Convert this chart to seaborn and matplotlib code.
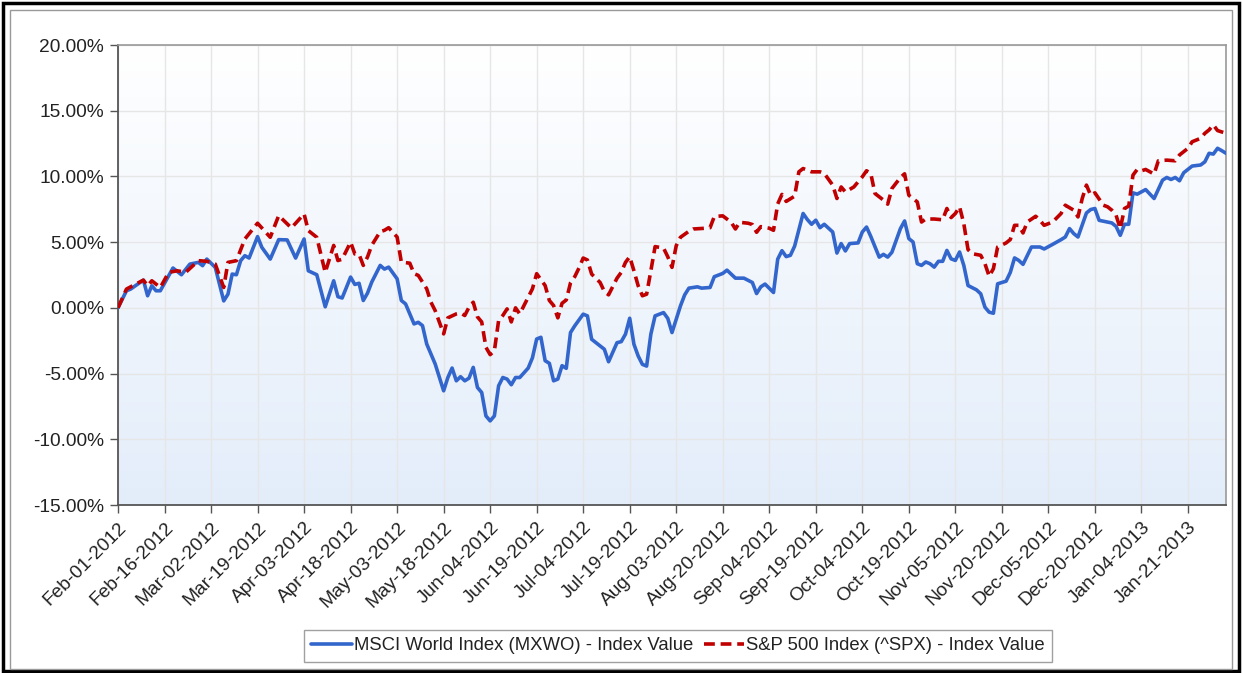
import numpy as np
import pandas as pd
import matplotlib
matplotlib.use("Agg")
import matplotlib.pyplot as plt
import seaborn as sns
from matplotlib.patches import Rectangle
from matplotlib.ticker import FuncFormatter
from matplotlib.colors import LinearSegmentedColormap

# ---------------- data (trading-day number since Feb-01-2012, % change) -------------
msci_day = [0, 2, 3, 6, 7, 8, 9, 10, 13, 15,
            17, 19, 20, 21, 23, 25, 26, 27, 28, 29,
            30, 31, 33, 34, 36, 38, 40, 42, 44, 45,
            47, 49, 51, 52, 53, 55, 56, 57, 58, 59,
            60, 62, 63, 64, 66, 67, 68, 70, 71, 72,
            73, 75, 77, 78, 79, 80, 81, 82, 83, 84,
            85, 86, 87, 88, 89, 90, 91, 92, 93, 94,
            95, 97, 98, 99, 100, 101, 102, 103, 104, 105,
            106, 107, 108, 110, 111, 112, 114, 115, 116, 118,
            119, 120, 121, 122, 123, 124, 125, 126, 127, 129,
            130, 131, 133, 134, 135, 136, 137, 138, 140, 141,
            143, 144, 146, 148, 150, 151, 152, 153, 155, 156,
            157, 158, 159, 160, 162, 163, 164, 165, 166, 167,
            169, 170, 171, 172, 173, 175, 176, 177, 178, 180,
            181, 182, 183, 185, 186, 187, 188, 189, 190, 191,
            192, 193, 194, 195, 196, 197, 198, 199, 200, 201,
            203, 204, 205, 206, 207, 208, 210, 211, 212, 213,
            214, 216, 218, 219, 221, 223, 224, 225, 226, 227,
            229, 230, 231, 232, 234, 235, 236, 237, 238, 239,
            240, 241, 243, 245, 247, 248, 249, 250, 251, 252,
            253, 254, 256, 257, 258, 259, 260, 261, 262]
msci_val = [0.00, 1.30, 1.43, 2.11, 0.92, 1.68, 1.30, 1.30, 3.03, 2.52,
            3.33, 3.46, 3.21, 3.71, 3.08, 0.53, 1.04, 2.57, 2.52, 3.59,
            3.97, 3.79, 5.42, 4.61, 3.71, 5.19, 5.17, 3.79, 5.24, 2.82,
            2.52, 0.08, 2.06, 0.85, 0.75, 2.34, 1.78, 1.87, 0.56, 1.12,
            1.96, 3.23, 2.95, 3.10, 2.21, 0.56, 0.30, -1.22, -1.10, -1.35,
            -2.75, -4.27, -6.31, -5.30, -4.58, -5.55, -5.24, -5.55, -5.35, -4.53,
            -6.06, -6.44, -8.22, -8.60, -8.22, -5.93, -5.30, -5.42, -5.85, -5.30,
            -5.30, -4.58, -3.80, -2.37, -2.24, -4.02, -4.22, -5.55, -5.42, -4.40,
            -4.60, -1.88, -1.37, -0.48, -0.61, -2.39, -2.90, -3.15, -4.10, -2.65,
            -2.57, -2.00, -0.79, -2.77, -3.66, -4.30, -4.43, -2.00, -0.61, -0.36,
            -0.80, -1.88, 0.15, 0.99, 1.50, 1.55, 1.60, 1.50, 1.55, 2.37,
            2.62, 2.87, 2.26, 2.26, 1.93, 1.09, 1.60, 1.81, 1.17, 3.71,
            4.35, 3.90, 4.00, 4.70, 7.18, 6.72, 6.36, 6.67, 6.10, 6.36,
            5.77, 4.17, 4.89, 4.33, 4.89, 4.94, 5.77, 6.15, 5.44, 3.86,
            4.07, 3.86, 4.23, 6.02, 6.61, 5.27, 5.01, 3.36, 3.23, 3.49,
            3.36, 3.10, 3.54, 3.54, 4.37, 3.73, 3.61, 4.25, 3.23, 1.70,
            1.37, 1.07, 0.05, -0.33, -0.41, 1.83, 2.03, 2.70, 3.80, 3.61,
            3.31, 4.63, 4.63, 4.48, 4.83, 5.19, 5.39, 6.03, 5.65, 5.39,
            7.22, 7.48, 7.56, 6.66, 6.53, 6.46, 6.20, 5.52, 6.36, 6.36,
            8.75, 8.65, 9.00, 8.32, 9.72, 9.92, 9.77, 9.92, 9.67, 10.28,
            10.53, 10.79, 10.87, 11.11, 11.76, 11.70, 12.14, 11.96, 11.76]

spx_day = [0, 2, 6, 7, 8, 10, 12, 14, 16, 19,
           21, 23, 25, 26, 28, 30, 33, 36, 38, 41,
           44, 45, 47, 49, 51, 52, 53, 55, 56, 57,
           58, 59, 60, 62, 63, 64, 66, 67, 69, 70,
           71, 73, 74, 75, 77, 78, 80, 81, 82, 83,
           84, 85, 86, 87, 88, 89, 90, 91, 92, 93,
           94, 95, 97, 98, 99, 101, 102, 103, 104, 105,
           106, 107, 108, 109, 110, 111, 112, 114, 115, 116,
           118, 119, 120, 121, 122, 123, 124, 125, 126, 127,
           129, 130, 131, 132, 133, 135, 136, 139, 140, 141,
           143, 145, 146, 147, 149, 150, 151, 152, 154, 155,
           156, 157, 158, 160, 161, 162, 164, 166, 167, 169,
           170, 171, 172, 174, 176, 177, 178, 179, 181, 182,
           183, 185, 186, 187, 189, 190, 191, 193, 195, 196,
           197, 198, 199, 200, 201, 202, 204, 205, 206, 207,
           208, 210, 211, 212, 213, 214, 215, 217, 218, 219,
           221, 223, 224, 226, 227, 228, 229, 230, 231, 233,
           234, 235, 236, 237, 238, 239, 240, 241, 242, 243,
           245, 246, 248, 250, 251, 253, 254, 256, 257, 258,
           259, 260, 262]
spx_val = [0.00, 1.43, 2.11, 1.68, 2.06, 1.55, 2.70, 2.82, 2.70, 3.59,
           3.54, 3.33, 1.55, 3.46, 3.59, 5.24, 6.44, 5.37, 7.02, 6.08,
           7.15, 5.88, 5.37, 2.70, 4.75, 3.60, 3.70, 5.00, 4.10, 4.07,
           3.23, 3.87, 4.76, 5.80, 5.90, 6.10, 5.39, 3.48, 3.40, 2.60,
           2.47, 1.45, 0.43, -0.21, -1.98, -0.76, -0.46, -0.39, -0.58, 0.05,
           0.43, -0.69, -1.07, -3.00, -3.56, -3.27, -0.97, -0.58, -0.08, -1.07,
           0.00, -0.46, 0.81, 1.45, 2.60, 1.70, 0.56, 0.18, -0.76, 0.35,
           0.60, 1.90, 2.37, 3.03, 3.79, 3.64, 2.57, 1.93, 1.25, 0.99,
           2.26, 2.70, 3.46, 3.89, 2.82, 1.68, 0.92, 1.04, 2.82, 4.66,
           4.55, 3.89, 3.08, 4.73, 5.37, 5.83, 6.00, 6.06, 6.10, 6.95,
           7.00, 6.51, 6.00, 6.51, 6.44, 6.34, 5.75, 6.18, 6.06, 5.90,
           7.91, 8.63, 8.10, 8.50, 10.35, 10.60, 10.35, 10.35, 10.23, 9.34,
           8.32, 9.20, 8.82, 9.20, 9.97, 10.43, 10.23, 8.70, 8.20, 7.89,
           9.08, 9.91, 10.20, 8.57, 8.06, 6.53, 6.76, 6.76, 6.70, 7.56,
           6.87, 7.18, 7.69, 6.41, 4.43, 4.12, 4.00, 3.36, 2.40, 2.98,
           4.63, 4.94, 5.20, 6.28, 6.28, 5.70, 6.53, 6.97, 6.66, 6.28,
           6.53, 7.18, 7.81, 7.43, 6.92, 8.32, 9.34, 8.57, 8.75, 7.81,
           7.69, 7.43, 7.05, 6.03, 7.56, 7.74, 10.10, 10.53, 10.43, 10.53,
           10.18, 11.19, 11.24, 11.19, 11.63, 12.14, 12.64, 12.90, 13.28, 13.54,
           13.92, 13.49, 13.28]

start_date = "2012-02-01"
n_days = 263
tick_step = 11
y_ticks = [-15, -10, -5, 0, 5, 10, 15, 20]
series_labels = ["MSCI World Index (MXWO) - Index Value",
                 "S&P 500 Index (^SPX) - Index Value"]

# ---------------- style -------------
sns.set_theme(style="white")
plt.rcParams['font.family'] = ['Liberation Sans', 'DejaVu Sans']

W, H = 1242, 673
fig = plt.figure(figsize=(W / 100, H / 100), dpi=100)
fig.patch.set_facecolor('white')
ax = fig.add_axes([118 / W, 1 - 505 / H, (1226 - 118) / W, (505 - 45) / H])

# gradient background of the plot area
grad = np.linspace(0, 1, 256).reshape(-1, 1)
cmap = LinearSegmentedColormap.from_list('bg', ['#ffffff', '#e3edfa'])
ax.imshow(grad, extent=[0, 1, 0, 1], transform=ax.transAxes, cmap=cmap,
          aspect='auto', zorder=0, origin='upper', interpolation='bilinear')

msci = pd.DataFrame({'day': msci_day, 'value': msci_val})
spx = pd.DataFrame({'day': spx_day, 'value': spx_val})

sns.lineplot(data=msci, x='day', y='value', ax=ax, color='#3366CC',
             linewidth=2.6, label=series_labels[0], zorder=3)
sns.lineplot(data=spx, x='day', y='value', ax=ax, color='#C00000',
             linewidth=2.6, linestyle=(0, (3.0, 1.6)), label=series_labels[1], zorder=4)

ax.set_xlim(0, n_days - 1)
ax.set_ylim(y_ticks[0], y_ticks[-1])
ax.set_yticks(y_ticks)
ax.yaxis.set_major_formatter(FuncFormatter(lambda v, p: f"{v:.2f}%"))

dates = pd.bdate_range(start_date, periods=n_days)
xt = list(range(0, n_days, tick_step))
ax.set_xticks(xt)
ax.set_xticklabels([dates[i].strftime('%b-%d-%Y') for i in xt],
                   rotation=45, ha='right', va='top', rotation_mode='anchor')
ax.set_xlabel('')
ax.set_ylabel('')

ax.grid(True, color='#e6e6e6', linewidth=1)
ax.set_axisbelow(True)

for s in ['left', 'bottom']:
    ax.spines[s].set_color('#555555')
    ax.spines[s].set_linewidth(1.3)
for s in ['top', 'right']:
    ax.spines[s].set_color('#999999')
    ax.spines[s].set_linewidth(1.2)

ax.tick_params(axis='both', which='both', bottom=True, left=True, direction='out',
               length=6, width=1, color='#555555', labelsize=13.8, labelcolor='#222222')
ax.tick_params(axis='y', pad=4)
ax.tick_params(axis='x', pad=4)

handles, labels = ax.get_legend_handles_labels()
if ax.get_legend() is not None:
    ax.get_legend().remove()
leg = fig.legend(handles, labels, loc='center', bbox_to_anchor=(678 / W, 1 - 646 / H),
                 ncol=2, frameon=True, fancybox=False, edgecolor='#888888',
                 fontsize=13.3, handlelength=2.2, handletextpad=0.1,
                 columnspacing=0.6, borderpad=0.4)
leg.get_frame().set_linewidth(1.0)
for t in leg.get_texts():
    t.set_color('#222222')

# outer frames
fig.patches.append(Rectangle((3 / W, 2 / H), (W - 6) / W, (H - 5) / H,
                             transform=fig.transFigure, fill=False,
                             edgecolor='black', linewidth=2.5))
fig.patches.append(Rectangle((10 / W, 4 / H), (W - 20) / W, (H - 14) / H,
                             transform=fig.transFigure, fill=False,
                             edgecolor='#999999', linewidth=1.0))

fig.savefig('out.png', dpi=100)
